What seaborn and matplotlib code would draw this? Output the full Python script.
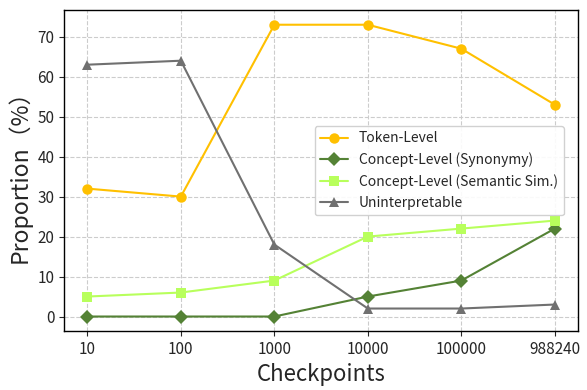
import pandas as pd
import seaborn as sns
import matplotlib.pyplot as plt

checkpoints = ['10', '100', '1000', '10000', '100000', '988240']
token_level = [32, 30, 73, 73, 67, 53]
concept_synonymy = [0, 0, 0, 5, 9, 22]
concept_semantic = [5, 6, 9, 20, 22, 24]
uninterpretable = [63, 64, 18, 2, 2, 3]

series = [
    ('Token-Level', token_level, '#FFC000', 'o'),
    ('Concept-Level (Synonymy)', concept_synonymy, '#548235', 'D'),
    ('Concept-Level (Semantic Sim.)', concept_semantic, '#B8FF5C', 's'),
    ('Uninterpretable', uninterpretable, '#707070', '^'),
]

sns.set_style('ticks')
plt.rcParams['font.family'] = ['Noto Sans CJK JP', 'DejaVu Sans']

fig, ax = plt.subplots(figsize=(5.87, 3.9), dpi=100)
for name, vals, color, marker in series:
    df = pd.DataFrame({'Checkpoint': checkpoints, 'Value': vals})
    sns.lineplot(data=df, x='Checkpoint', y='Value', ax=ax, color=color,
                 marker=marker, markersize=7.5, markeredgewidth=0,
                 linewidth=1.5, label=name, sort=False)

ax.grid(True, linestyle='--', color='#cccccc', linewidth=0.8)
ax.set_xlabel('Checkpoints', fontsize=16)
ax.set_ylabel('Proportion（%）', fontsize=16.5)
ax.tick_params(labelsize=11)
for s in ax.spines.values():
    s.set_linewidth(1.0)
    s.set_color('black')
ax.legend(loc='center right', bbox_to_anchor=(0.985, 0.5), fontsize=10,
          framealpha=0.9)
fig.subplots_adjust(left=0.109, right=0.985, top=0.974, bottom=0.151)
plt.savefig('out.png', dpi=100)
